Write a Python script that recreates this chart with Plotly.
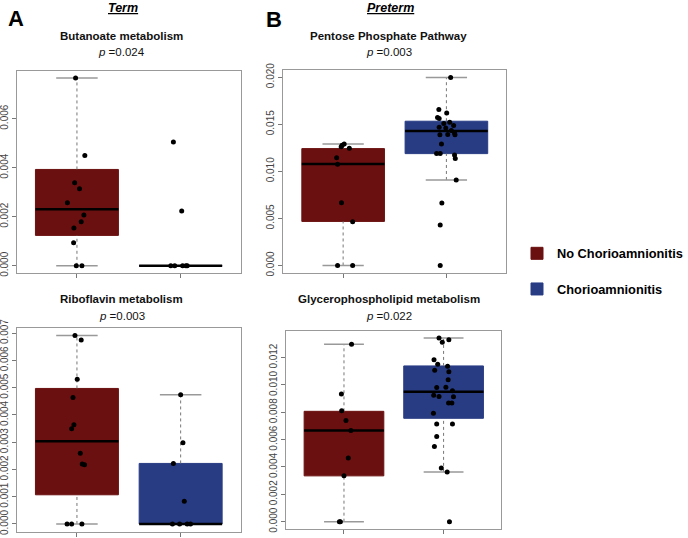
import plotly.graph_objects as go
from plotly.subplots import make_subplots

# group labels / colours
groups = ["No Chorioamnionitis", "Chorioamnionitis"]
colors = ["#6b1010", "#283c84"]

# ---- A: Term, Butanoate metabolism
but_no = [0.00766, 0.00450, 0.00339, 0.00314, 0.00257, 0.00207, 0.00180, 0.00154, 0.00094, 0.0, 0.0]
but_no_jit = [-0.013, 0.076, -0.022, 0.025, -0.092, 0.067, 0.041, -0.029, -0.032, -0.006, 0.048]
but_ch = [0.00505, 0.00224, 0.0, 0.0, 0.0, 0.0, 0.0]
but_ch_jit = [-0.070, 0.010, -0.095, -0.057, 0.019, 0.051, 0.063]
# stats: lower whisker, q1, median, q3, upper whisker
but_no_stats = [0.0, 0.00124, 0.00231, 0.00393, 0.00766]
but_ch_stats = [0.0, 0.0, 0.0, 0.0, 0.0]

# ---- A: Term, Riboflavin metabolism
rib_no = [0.00691, 0.00675, 0.00531, 0.00464, 0.00364, 0.00349, 0.00259, 0.00220, 0.00217, 0.0, 0.0, 0.0]
rib_no_jit = [-0.019, 0.041, 0.003, -0.038, -0.029, -0.051, 0.032, 0.051, 0.073, -0.095, -0.051, 0.048]
rib_ch = [0.00474, 0.00298, 0.00222, 0.00083, 0.0, 0.0, 0.0, 0.0]
rib_ch_jit = [0.0, 0.022, -0.070, 0.035, -0.079, -0.010, 0.063, 0.095]
rib_no_stats = [0.0, 0.00107, 0.00303, 0.00497, 0.00691]
rib_ch_stats = [0.0, 0.0, 0.0, 0.00222, 0.00474]

# ---- B: Preterm, Pentose Phosphate Pathway
pen_no = [0.01291, 0.01277, 0.01262, 0.01245, 0.01145, 0.01075, 0.00667, 0.00465, 0.0, 0.0]
pen_no_jit = [0.010, -0.010, -0.019, 0.060, -0.063, -0.054, -0.016, 0.092, -0.054, 0.092]
pen_ch = [0.01996, 0.01656, 0.01620, 0.01571, 0.01560, 0.01520, 0.01507, 0.01486, 0.01468, 0.01460,
          0.01433, 0.01408, 0.01387, 0.01390, 0.01387, 0.01290, 0.01190, 0.01190, 0.01174, 0.01135,
          0.00908, 0.00663, 0.00429, 0.0]
pen_ch_jit = [0.041, -0.073, 0.003, -0.086, -0.070, 0.032, -0.025, 0.070, -0.070, -0.006,
              0.048, 0.079, -0.063, 0.013, 0.083, -0.048, -0.095, -0.060, 0.079, 0.086,
              0.095, -0.044, -0.060, -0.060]
pen_no_stats = [0.0, 0.00468, 0.01078, 0.01241, 0.01291]
pen_ch_stats = [0.00908, 0.01188, 0.01429, 0.01532, 0.01996]

# ---- B: Preterm, Glycerophospholipid metabolism
gly_no = [0.01297, 0.00933, 0.00812, 0.00739, 0.00667, 0.00465, 0.00335, 0.0, 0.0]
gly_no_jit = [0.076, -0.026, -0.023, 0.020, 0.069, 0.043, 0.0, -0.046, -0.036]
gly_ch = [0.01343, 0.01331, 0.01312, 0.01185, 0.01152, 0.01137, 0.01108, 0.01096, 0.01038, 0.00982,
          0.00984, 0.00958, 0.00924, 0.00916, 0.00914, 0.00868, 0.00868, 0.00793, 0.00715, 0.00715,
          0.00623, 0.00550, 0.00393, 0.00364, 0.0]
gly_ch_jit = [-0.046, 0.053, -0.013, -0.096, -0.059, 0.040, -0.089, 0.053, 0.046, -0.069,
              0.023, 0.089, -0.099, -0.046, 0.099, 0.050, 0.083, -0.102, -0.069, 0.089,
              -0.069, -0.092, -0.023, 0.036, 0.059]
gly_no_stats = [0.0, 0.00335, 0.00667, 0.00807, 0.01297]
gly_ch_stats = [0.00364, 0.00756, 0.00950, 0.01139, 0.01343]

panels = [
    # row, col, title, p, values, jitter, stats, y ticks
    (1, 1, "Butanoate metabolism", "0.024", [but_no, but_ch], [but_no_jit, but_ch_jit],
     [but_no_stats, but_ch_stats], [0, 0.002, 0.004, 0.006]),
    (2, 1, "Riboflavin metabolism", "0.003", [rib_no, rib_ch], [rib_no_jit, rib_ch_jit],
     [rib_no_stats, rib_ch_stats], [0, 0.001, 0.002, 0.003, 0.004, 0.005, 0.006, 0.007]),
    (1, 2, "Pentose Phosphate Pathway", "0.003", [pen_no, pen_ch], [pen_no_jit, pen_ch_jit],
     [pen_no_stats, pen_ch_stats], [0, 0.005, 0.010, 0.015, 0.020]),
    (2, 2, "Glycerophospholipid metabolism", "0.022", [gly_no, gly_ch], [gly_no_jit, gly_ch_jit],
     [gly_no_stats, gly_ch_stats], [0, 0.002, 0.004, 0.006, 0.008, 0.010, 0.012]),
]

W, H = 688, 538
# plot frames in pixels: (left, right, top, bottom)
frames = {(1, 1): (17, 244, 70.5, 273.3), (2, 1): (17, 244, 328, 531.5),
          (1, 2): (287, 513, 70, 273), (2, 2): (290, 508, 330.7, 529)}

FONT = "Liberation Sans, Arial, sans-serif"
fig = make_subplots(rows=2, cols=2)

annotations = []
for row, col, title, p, vals, jits, stats, yticks in panels:
    first = (row == 1 and col == 1)
    for g in range(2):
        xg = g + 1
        lo, q1, med, q3, hi = stats[g]
        # dashed whiskers
        fig.add_trace(go.Scatter(x=[xg, xg, None, xg, xg], y=[lo, q1, None, q3, hi], mode="lines",
                                 line=dict(color="#777777", width=1, dash="dot"),
                                 showlegend=False, hoverinfo="skip"), row=row, col=col)
        # staples
        fig.add_trace(go.Scatter(x=[xg - 0.2, xg + 0.2, None, xg - 0.2, xg + 0.2],
                                 y=[lo, lo, None, hi, hi], mode="lines",
                                 line=dict(color="#999999", width=1.5),
                                 showlegend=False, hoverinfo="skip"), row=row, col=col)
        fig.add_trace(go.Box(x=[xg], q1=[q1], median=[med], q3=[q3], lowerfence=[q1], upperfence=[q3],
                             width=0.8, whiskerwidth=0, orientation="v",
                             fillcolor=colors[g], line=dict(color=colors[g], width=1),
                             name="<b>" + groups[g] + "</b>", legendgroup=groups[g],
                             showlegend=first),
                      row=row, col=col)
        # median line
        fig.add_trace(go.Scatter(x=[xg - 0.4, xg + 0.4], y=[med, med], mode="lines",
                                 line=dict(color="black", width=2.5),
                                 showlegend=False, hoverinfo="skip"), row=row, col=col)
        fig.add_trace(go.Scatter(x=[xg + j for j in jits[g]], y=vals[g], mode="markers",
                                 marker=dict(color="black", size=5),
                                 showlegend=False), row=row, col=col)

    ymax = max(max(vals[0]), max(vals[1]), stats[0][4], stats[1][4])
    pad = 0.04 * ymax
    fr = frames[(row, col)]
    fig.update_xaxes(range=[0.42, 2.58], domain=[fr[0] / W, fr[1] / W], tickvals=[1, 2],
                     showticklabels=False, ticks="outside", ticklen=4, tickcolor="#777777",
                     showline=True, mirror=True, linecolor="#999999", linewidth=1,
                     showgrid=False, zeroline=False, automargin=False, row=row, col=col)
    fig.update_yaxes(range=[-pad, ymax + pad], domain=[1 - fr[3] / H, 1 - fr[2] / H],
                     tickvals=yticks, tickformat=".3f", tickangle=-90, ticks="outside", ticklen=4,
                     tickcolor="#777777", tickfont=dict(size=10, color="#444444", family=FONT),
                     showline=True, mirror=True, linecolor="#999999", linewidth=1,
                     showgrid=False, zeroline=False, automargin=False, row=row, col=col)

    cx = 123.5 if col == 1 else 394
    ty = 35.5 if row == 1 else 299
    annotations.append(dict(text="<b>" + title + "</b>", x=cx / W, y=1 - ty / H,
                            font=dict(size=11.5, color="#111111")))
    annotations.append(dict(text="<i>p</i> =" + p, x=cx / W, y=1 - (ty + 16.5) / H,
                            font=dict(size=11.5, color="#111111")))

annotations += [
    dict(text="<b>A</b>", x=16.5 / W, y=1 - 19 / H, font=dict(size=22, color="black")),
    dict(text="<b>B</b>", x=278 / W, y=1 - 19.5 / H, font=dict(size=22, color="black")),
    dict(text="<b><i><u>Term</u></i></b>", x=125 / W, y=1 - 8 / H, font=dict(size=12.5, color="black")),
    dict(text="<b><i><u>Preterm</u></i></b>", x=395.5 / W, y=1 - 8 / H, font=dict(size=12.5, color="black")),
]
for a in annotations:
    a.update(xref="paper", yref="paper", showarrow=False, xanchor="center", yanchor="middle")

fig.update_layout(
    width=W, height=H,
    margin=dict(l=0, r=0, t=0, b=0),
    paper_bgcolor="white", plot_bgcolor="white",
    font=dict(family=FONT),
    annotations=annotations,
    showlegend=True,
    legend=dict(x=524 / W, y=1 - 238.5 / H, xanchor="left", yanchor="top",
                font=dict(size=12.8, color="black", family=FONT),
                traceorder="grouped", tracegroupgap=16, bgcolor="rgba(0,0,0,0)"),
)
fig.update_annotations(font_family=FONT)

# the page body has a default 8px margin; drop it so the figure fills the window
fig.write_html("out.html", config={"displayModeBar": False},
               post_script="document.body.style.margin='0px';")
